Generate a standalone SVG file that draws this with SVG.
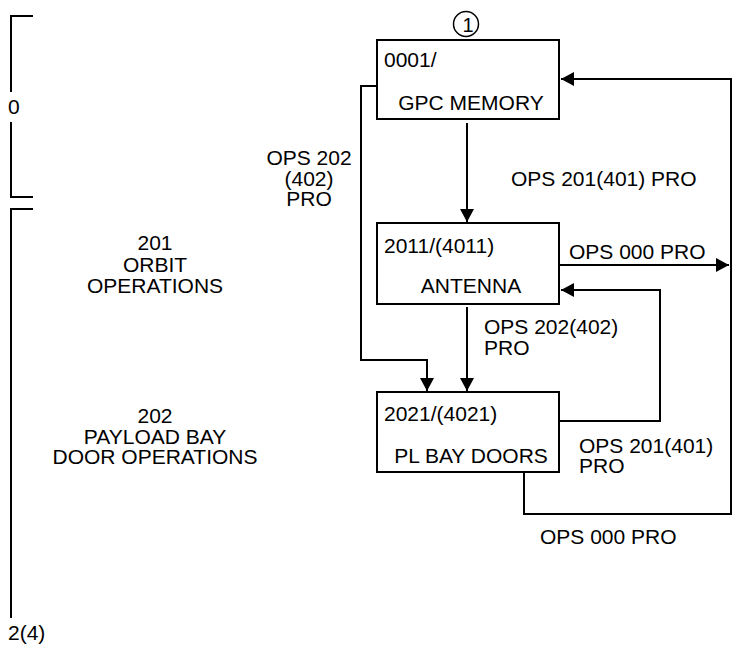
<svg xmlns="http://www.w3.org/2000/svg" width="732" height="645" viewBox="0 0 732 645">
<style>
text{font-family:"Liberation Sans",Arial,sans-serif;font-size:21px;fill:#000}
.c{text-anchor:middle}
.ln{fill:none;stroke:#000;stroke-width:2}
.box{fill:#fff;stroke:#000;stroke-width:2}
</style>
<defs>
<marker id="ah" markerUnits="userSpaceOnUse" markerWidth="14" markerHeight="14" viewBox="0 0 14 14" refX="13" refY="7" orient="auto">
<path d="M0,0 L13,7 L0,14 z" fill="#000"/>
</marker>
</defs>
<g id="brackets">
<path class="ln" d="M33,16 H11 V92 M11,122 V197 H33"/>
<text x="8" y="114">0</text>
<path class="ln" d="M33,209 H11 V618"/>
<text x="8" y="640">2(4)</text>
</g>
<g id="phase-labels">
<text class="c" x="155" y="250">201</text>
<text class="c" x="155" y="272">ORBIT</text>
<text class="c" x="155" y="293">OPERATIONS</text>
<text class="c" x="155" y="423">202</text>
<text class="c" x="155" y="444">PAYLOAD BAY</text>
<text class="c" x="155" y="464">DOOR OPERATIONS</text>
</g>
<g id="connectors">
<path class="ln" d="M467,123 V222" marker-end="url(#ah)"/>
<path class="ln" d="M377,86 H361 V360 H427 V391" marker-end="url(#ah)"/>
<path class="ln" d="M467,307 V391" marker-end="url(#ah)"/>
<path class="ln" d="M559,265 H729" marker-end="url(#ah)"/>
<path class="ln" d="M559,421 H660 V290 H561" marker-end="url(#ah)"/>
<path class="ln" d="M524,472 V514 H731 V79 H561" marker-end="url(#ah)"/>
<text class="c" x="309" y="165">OPS 202</text>
<text class="c" x="309" y="186">(402)</text>
<text class="c" x="309" y="206">PRO</text>
<text x="511" y="186">OPS 201(401) PRO</text>
<text x="569" y="259">OPS 000 PRO</text>
<text x="484" y="334">OPS 202(402)</text>
<text x="484" y="355">PRO</text>
<text x="579" y="453">OPS 201(401)</text>
<text x="579" y="473">PRO</text>
<text x="540" y="544">OPS 000 PRO</text>
</g>
<g id="node-gpc-memory">
<circle cx="466" cy="24" r="12.5" fill="none" stroke="#000" stroke-width="1.5"/>
<text class="c" x="468" y="32" style="font-size:20px">1</text>
<rect class="box" x="377" y="40" width="182" height="79"/>
<text x="384" y="67">0001/</text>
<text class="c" x="471" y="110">GPC MEMORY</text>
</g>
<g id="node-antenna">
<rect class="box" x="377" y="223" width="182" height="81"/>
<text x="384" y="253">2011/(4011)</text>
<text class="c" x="471" y="293">ANTENNA</text>
</g>
<g id="node-pl-bay-doors">
<rect class="box" x="377" y="392" width="182" height="80"/>
<text x="384" y="421">2021/(4021)</text>
<text class="c" x="471" y="463">PL BAY DOORS</text>
</g>
</svg>
